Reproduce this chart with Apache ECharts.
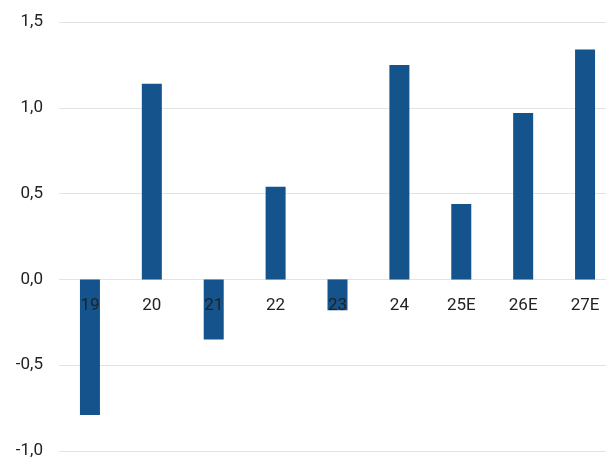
<!DOCTYPE html>
<html>
<head>
<meta charset="utf-8">
<script src="https://cdn.jsdelivr.net/npm/echarts@6/dist/echarts.min.js"></script>
<style>
  html, body { margin: 0; padding: 0; background: #fff; }
  #chart { width: 606px; height: 459px; }
</style>
</head>
<body>
<div id="chart"></div>
<script>
// Years (E = estimate)
const categories = ['19', '20', '21', '22', '23', '24', '25E', '26E', '27E'];
// Annual values
const values = [-0.79, 1.14, -0.35, 0.54, -0.18, 1.25, 0.44, 0.97, 1.34];
// Value axis range
const yMin = -1.0;
const yMax = 1.5;
const yStep = 0.5;

const W = 606, H = 459;
const gridTop = 22, gridBottom = 8;
// Lift the category axis so its labels sit just under the zero line
const plotH = H - gridTop - gridBottom;
const zeroLift = plotH * (0 - yMin) / (yMax - yMin);

const chart = echarts.init(document.getElementById('chart'), null, { renderer: 'canvas' });
chart.setOption({
  animation: false,
  backgroundColor: '#ffffff',
  textStyle: { fontFamily: 'Roboto' },
  grid: { left: 59, right: -10, top: gridTop, bottom: gridBottom, containLabel: false, outerBoundsMode: 'none' },
  xAxis: {
    type: 'category',
    data: categories,
    z: 5,
    offset: -zeroLift,
    axisLine: { show: false, onZero: false },
    axisTick: { show: false },
    axisLabel: { color: '#222', fontSize: 17, margin: 18, fontFamily: 'Roboto' }
  },
  yAxis: {
    type: 'value',
    min: yMin,
    max: yMax,
    interval: yStep,
    axisLine: { show: false },
    axisTick: { show: false },
    splitLine: { lineStyle: { color: '#e3e3e3', width: 1 } },
    axisLabel: {
      color: '#222',
      fontSize: 17,
      margin: 16,
      fontFamily: 'Roboto',
      formatter: v => v.toFixed(1).replace('.', ',')
    }
  },
  series: [{
    type: 'bar',
    data: values,
    barWidth: 20,
    itemStyle: { color: '#14538B' }
  }]
});
</script>
</body>
</html>
